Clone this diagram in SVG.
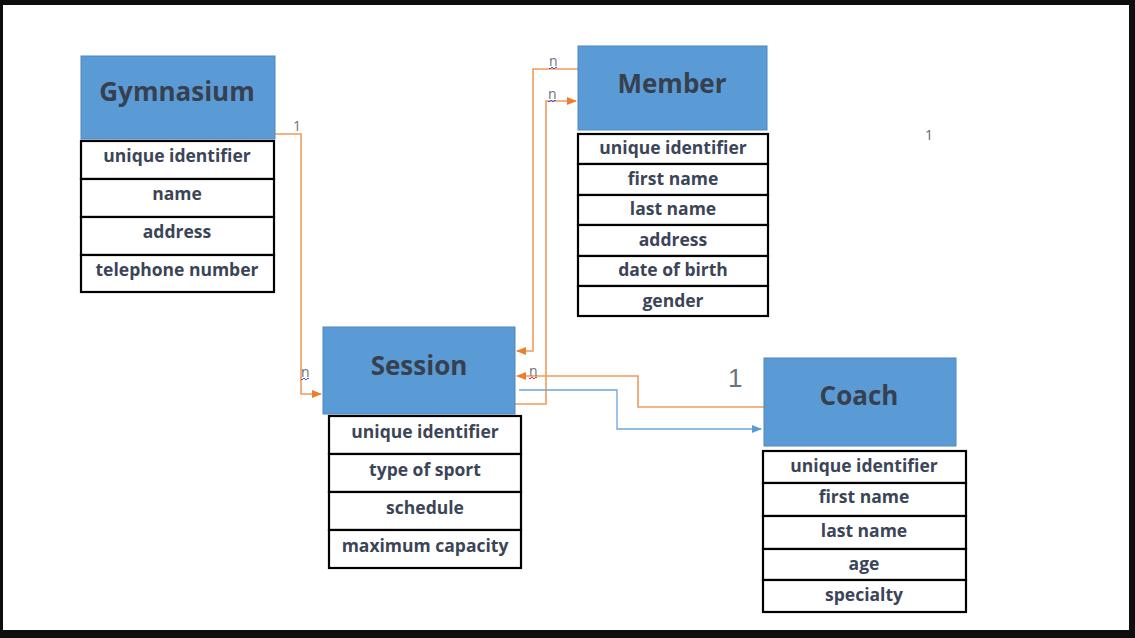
<svg xmlns="http://www.w3.org/2000/svg" width="1135" height="638" viewBox="0 0 1135 638">
<defs>
<style>
.hdr{fill:#5b9bd5;stroke:#4f88bd;stroke-width:1}
.ht{font-family:"Open Sans","Noto Sans",sans-serif;font-weight:700;font-size:26px;fill:#37404f;text-anchor:middle}
.row{fill:#ffffff;stroke:#000000;stroke-width:2.2}
.rt{font-family:"Open Sans","Noto Sans",sans-serif;font-weight:700;font-size:17.5px;fill:#3b4557;text-anchor:middle}
.or{fill:none;stroke:#f29a5c;stroke-width:1.6}
.bl{fill:none;stroke:#6aa6dc;stroke-width:1.3}
.lb{font-family:"Open Sans","Noto Sans",sans-serif;font-size:14px;fill:#6b7280}
.sq{fill:none;stroke-width:1}
</style>
<marker id="ao" markerWidth="10" markerHeight="8" refX="9" refY="4" orient="auto" markerUnits="userSpaceOnUse"><path d="M0,0 L10,4 L0,8 z" fill="#ed7d31"/></marker>
<marker id="ab" markerWidth="10" markerHeight="8" refX="9" refY="4" orient="auto" markerUnits="userSpaceOnUse"><path d="M0,0 L10,4 L0,8 z" fill="#5b9bd5"/></marker>
</defs>
<rect x="0" y="0" width="1135" height="638" fill="#0e0e0e"/>
<rect x="3" y="5" width="1126" height="625" fill="#ffffff"/>

<g id="connectors">
<path class="or" d="M275,134 H301 V394 H321" marker-end="url(#ao)"/>
<path class="or" d="M578,69 H533 V351 H517" marker-end="url(#ao)"/>
<path class="or" d="M515,404 H546 V101 H576" marker-end="url(#ao)"/>
<path class="or" d="M764,407 H638 V376 H517" marker-end="url(#ao)"/>
<path class="bl" d="M519,390 H617 V429 H761" marker-end="url(#ab)"/>
<text class="lb" x="293" y="131">1</text>
<text class="lb" x="301" y="377">n</text>
<path class="sq" stroke="#3b5bdb" d="M301,379 q1,2 2,0 t2,0 t2,0 t2,0"/>
<text class="lb" x="549" y="66">n</text>
<path class="sq" stroke="#3b5bdb" d="M549,68 q1,2 2,0 t2,0 t2,0 t2,0"/>
<text class="lb" x="548" y="99">n</text>
<path class="sq" stroke="#3b5bdb" d="M548,101 q1,2 2,0 t2,0 t2,0 t2,0"/>
<text class="lb" x="529" y="376">n</text>
<path class="sq" stroke="#e03131" d="M529,378 q1,2 2,0 t2,0 t2,0 t2,0"/>
<text class="lb" x="728" y="387" style="font-family:'Liberation Sans',sans-serif;font-size:26px;fill:#6b7280">1</text>
<text class="lb" x="925" y="140" style="font-size:14px;fill:#5f6673">1</text>
</g>

<g id="gymnasium">
<rect class="hdr" x="81" y="56" width="194" height="83"/>
<text class="ht" x="177" y="101">Gymnasium</text>
<rect class="row" x="81" y="141" width="193" height="38"/>
<text class="rt" x="177" y="162">unique identifier</text>
<rect class="row" x="81" y="179" width="193" height="38"/>
<text class="rt" x="177" y="200">name</text>
<rect class="row" x="81" y="217" width="193" height="38"/>
<text class="rt" x="177" y="238">address</text>
<rect class="row" x="81" y="255" width="193" height="37"/>
<text class="rt" x="177" y="276">telephone number</text>
</g>

<g id="member">
<rect class="hdr" x="578" y="46" width="189" height="84"/>
<text class="ht" x="672" y="93">Member</text>
<rect class="row" x="578" y="134" width="190" height="30"/>
<text class="rt" x="673" y="154">unique identifier</text>
<rect class="row" x="578" y="164" width="190" height="31"/>
<text class="rt" x="673" y="185">first name</text>
<rect class="row" x="578" y="195" width="190" height="30"/>
<text class="rt" x="673" y="215">last name</text>
<rect class="row" x="578" y="225" width="190" height="31"/>
<text class="rt" x="673" y="246">address</text>
<rect class="row" x="578" y="256" width="190" height="30"/>
<text class="rt" x="673" y="276">date of birth</text>
<rect class="row" x="578" y="286" width="190" height="30"/>
<text class="rt" x="673" y="307">gender</text>
</g>

<g id="session">
<rect class="hdr" x="323" y="327" width="192" height="87"/>
<text class="ht" x="419" y="375">Session</text>
<rect class="row" x="329" y="416" width="192" height="38"/>
<text class="rt" x="425" y="438">unique identifier</text>
<rect class="row" x="329" y="454" width="192" height="38"/>
<text class="rt" x="425" y="476">type of sport</text>
<rect class="row" x="329" y="492" width="192" height="38"/>
<text class="rt" x="425" y="514">schedule</text>
<rect class="row" x="329" y="530" width="192" height="38"/>
<text class="rt" x="425" y="552">maximum capacity</text>
</g>

<g id="coach">
<rect class="hdr" x="764" y="358" width="192" height="88"/>
<text class="ht" x="859" y="405">Coach</text>
<rect class="row" x="763" y="451" width="203" height="32"/>
<text class="rt" x="864" y="472">unique identifier</text>
<rect class="row" x="763" y="483" width="203" height="33"/>
<text class="rt" x="864" y="503">first name</text>
<rect class="row" x="763" y="516" width="203" height="33"/>
<text class="rt" x="864" y="537">last name</text>
<rect class="row" x="763" y="549" width="203" height="31"/>
<text class="rt" x="864" y="570">age</text>
<rect class="row" x="763" y="580" width="203" height="32"/>
<text class="rt" x="864" y="601">specialty</text>
</g>
</svg>
